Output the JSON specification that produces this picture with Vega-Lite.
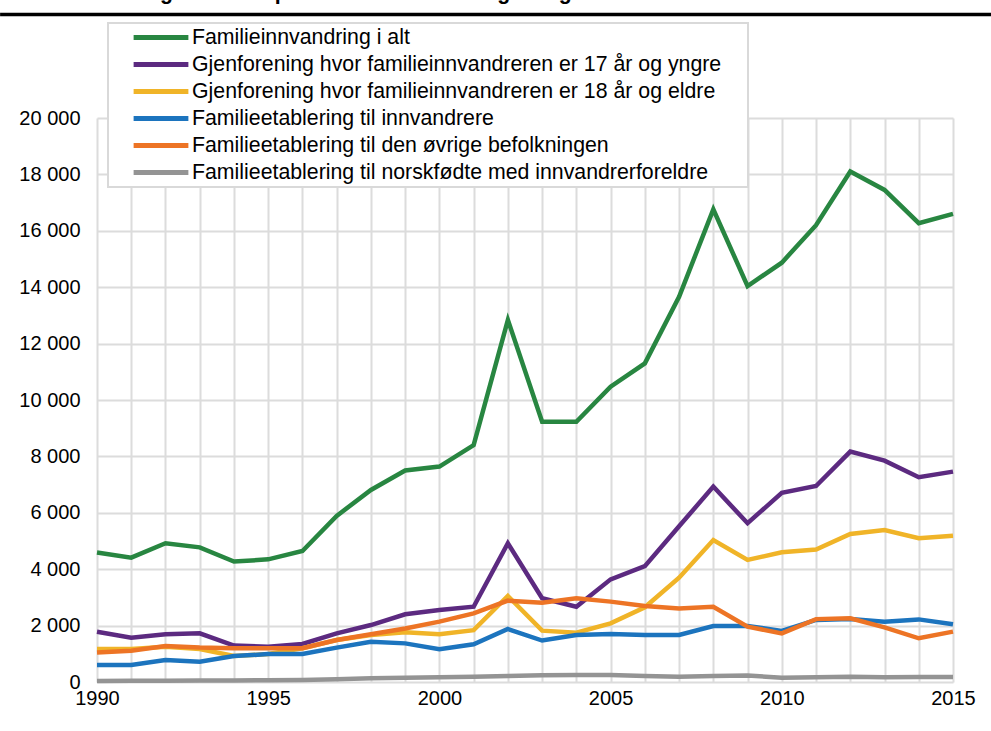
{
  "$schema": "https://vega.github.io/schema/vega-lite/v6.json",
  "width": 856,
  "height": 564,
  "autosize": {"type": "none"},
  "padding": {"left": 97, "top": 118, "right": 38, "bottom": 49},
  "background": "white",
  "title": {
    "text": "og referansepersonens innvandringsbakgrunn",
    "anchor": "start",
    "frame": "group",
    "font": "Liberation Sans",
    "fontSize": 21.3,
    "fontWeight": "bold",
    "color": "black",
    "dx": 50,
    "dy": -5
  },
  "config": {
    "locale": {"number": {"decimal": ",", "thousands": " ", "grouping": [3], "currency": ["", " kr"]}},
    "view": {"stroke": null},
    "axis": {
      "labelFont": "Liberation Sans",
      "labelFontSize": 20,
      "labelColor": "black",
      "gridColor": "#dcdcdc",
      "gridWidth": 2,
      "domain": false,
      "ticks": false,
      "title": null
    },
    "legend": {
      "strokeWidth": 2
    }
  },
  "resolve": {"axis": {"x": "independent"}},
  "layer": [
    {
      "data": {
        "values": [
          {"series": "Familieinnvandring i alt", "year": 1990, "value": 4590},
          {"series": "Familieinnvandring i alt", "year": 1991, "value": 4410},
          {"series": "Familieinnvandring i alt", "year": 1992, "value": 4920},
          {"series": "Familieinnvandring i alt", "year": 1993, "value": 4775},
          {"series": "Familieinnvandring i alt", "year": 1994, "value": 4270},
          {"series": "Familieinnvandring i alt", "year": 1995, "value": 4350},
          {"series": "Familieinnvandring i alt", "year": 1996, "value": 4645},
          {"series": "Familieinnvandring i alt", "year": 1997, "value": 5890},
          {"series": "Familieinnvandring i alt", "year": 1998, "value": 6810},
          {"series": "Familieinnvandring i alt", "year": 1999, "value": 7500},
          {"series": "Familieinnvandring i alt", "year": 2000, "value": 7640},
          {"series": "Familieinnvandring i alt", "year": 2001, "value": 8400},
          {"series": "Familieinnvandring i alt", "year": 2002, "value": 12840},
          {"series": "Familieinnvandring i alt", "year": 2003, "value": 9230},
          {"series": "Familieinnvandring i alt", "year": 2004, "value": 9230},
          {"series": "Familieinnvandring i alt", "year": 2005, "value": 10470},
          {"series": "Familieinnvandring i alt", "year": 2006, "value": 11300},
          {"series": "Familieinnvandring i alt", "year": 2007, "value": 13660},
          {"series": "Familieinnvandring i alt", "year": 2008, "value": 16760},
          {"series": "Familieinnvandring i alt", "year": 2009, "value": 14040},
          {"series": "Familieinnvandring i alt", "year": 2010, "value": 14870},
          {"series": "Familieinnvandring i alt", "year": 2011, "value": 16200},
          {"series": "Familieinnvandring i alt", "year": 2012, "value": 18100},
          {"series": "Familieinnvandring i alt", "year": 2013, "value": 17450},
          {"series": "Familieinnvandring i alt", "year": 2014, "value": 16270},
          {"series": "Familieinnvandring i alt", "year": 2015, "value": 16600},

          {"series": "Gjenforening hvor familieinnvandreren er 17 år og yngre", "year": 1990, "value": 1780},
          {"series": "Gjenforening hvor familieinnvandreren er 17 år og yngre", "year": 1991, "value": 1570},
          {"series": "Gjenforening hvor familieinnvandreren er 17 år og yngre", "year": 1992, "value": 1690},
          {"series": "Gjenforening hvor familieinnvandreren er 17 år og yngre", "year": 1993, "value": 1725},
          {"series": "Gjenforening hvor familieinnvandreren er 17 år og yngre", "year": 1994, "value": 1290},
          {"series": "Gjenforening hvor familieinnvandreren er 17 år og yngre", "year": 1995, "value": 1250},
          {"series": "Gjenforening hvor familieinnvandreren er 17 år og yngre", "year": 1996, "value": 1350},
          {"series": "Gjenforening hvor familieinnvandreren er 17 år og yngre", "year": 1997, "value": 1725},
          {"series": "Gjenforening hvor familieinnvandreren er 17 år og yngre", "year": 1998, "value": 2020},
          {"series": "Gjenforening hvor familieinnvandreren er 17 år og yngre", "year": 1999, "value": 2400},
          {"series": "Gjenforening hvor familieinnvandreren er 17 år og yngre", "year": 2000, "value": 2550},
          {"series": "Gjenforening hvor familieinnvandreren er 17 år og yngre", "year": 2001, "value": 2670},
          {"series": "Gjenforening hvor familieinnvandreren er 17 år og yngre", "year": 2002, "value": 4920},
          {"series": "Gjenforening hvor familieinnvandreren er 17 år og yngre", "year": 2003, "value": 2970},
          {"series": "Gjenforening hvor familieinnvandreren er 17 år og yngre", "year": 2004, "value": 2670},
          {"series": "Gjenforening hvor familieinnvandreren er 17 år og yngre", "year": 2005, "value": 3640},
          {"series": "Gjenforening hvor familieinnvandreren er 17 år og yngre", "year": 2006, "value": 4110},
          {"series": "Gjenforening hvor familieinnvandreren er 17 år og yngre", "year": 2007, "value": 5520},
          {"series": "Gjenforening hvor familieinnvandreren er 17 år og yngre", "year": 2008, "value": 6930},
          {"series": "Gjenforening hvor familieinnvandreren er 17 år og yngre", "year": 2009, "value": 5630},
          {"series": "Gjenforening hvor familieinnvandreren er 17 år og yngre", "year": 2010, "value": 6710},
          {"series": "Gjenforening hvor familieinnvandreren er 17 år og yngre", "year": 2011, "value": 6950},
          {"series": "Gjenforening hvor familieinnvandreren er 17 år og yngre", "year": 2012, "value": 8170},
          {"series": "Gjenforening hvor familieinnvandreren er 17 år og yngre", "year": 2013, "value": 7850},
          {"series": "Gjenforening hvor familieinnvandreren er 17 år og yngre", "year": 2014, "value": 7260},
          {"series": "Gjenforening hvor familieinnvandreren er 17 år og yngre", "year": 2015, "value": 7460},

          {"series": "Gjenforening hvor familieinnvandreren er 18 år og eldre", "year": 1990, "value": 1170},
          {"series": "Gjenforening hvor familieinnvandreren er 18 år og eldre", "year": 1991, "value": 1170},
          {"series": "Gjenforening hvor familieinnvandreren er 18 år og eldre", "year": 1992, "value": 1250},
          {"series": "Gjenforening hvor familieinnvandreren er 18 år og eldre", "year": 1993, "value": 1170},
          {"series": "Gjenforening hvor familieinnvandreren er 18 år og eldre", "year": 1994, "value": 920},
          {"series": "Gjenforening hvor familieinnvandreren er 18 år og eldre", "year": 1995, "value": 990},
          {"series": "Gjenforening hvor familieinnvandreren er 18 år og eldre", "year": 1996, "value": 1195},
          {"series": "Gjenforening hvor familieinnvandreren er 18 år og eldre", "year": 1997, "value": 1490},
          {"series": "Gjenforening hvor familieinnvandreren er 18 år og eldre", "year": 1998, "value": 1670},
          {"series": "Gjenforening hvor familieinnvandreren er 18 år og eldre", "year": 1999, "value": 1760},
          {"series": "Gjenforening hvor familieinnvandreren er 18 år og eldre", "year": 2000, "value": 1690},
          {"series": "Gjenforening hvor familieinnvandreren er 18 år og eldre", "year": 2001, "value": 1840},
          {"series": "Gjenforening hvor familieinnvandreren er 18 år og eldre", "year": 2002, "value": 3050},
          {"series": "Gjenforening hvor familieinnvandreren er 18 år og eldre", "year": 2003, "value": 1820},
          {"series": "Gjenforening hvor familieinnvandreren er 18 år og eldre", "year": 2004, "value": 1750},
          {"series": "Gjenforening hvor familieinnvandreren er 18 år og eldre", "year": 2005, "value": 2080},
          {"series": "Gjenforening hvor familieinnvandreren er 18 år og eldre", "year": 2006, "value": 2650},
          {"series": "Gjenforening hvor familieinnvandreren er 18 år og eldre", "year": 2007, "value": 3700},
          {"series": "Gjenforening hvor familieinnvandreren er 18 år og eldre", "year": 2008, "value": 5035},
          {"series": "Gjenforening hvor familieinnvandreren er 18 år og eldre", "year": 2009, "value": 4330},
          {"series": "Gjenforening hvor familieinnvandreren er 18 år og eldre", "year": 2010, "value": 4600},
          {"series": "Gjenforening hvor familieinnvandreren er 18 år og eldre", "year": 2011, "value": 4700},
          {"series": "Gjenforening hvor familieinnvandreren er 18 år og eldre", "year": 2012, "value": 5250},
          {"series": "Gjenforening hvor familieinnvandreren er 18 år og eldre", "year": 2013, "value": 5390},
          {"series": "Gjenforening hvor familieinnvandreren er 18 år og eldre", "year": 2014, "value": 5100},
          {"series": "Gjenforening hvor familieinnvandreren er 18 år og eldre", "year": 2015, "value": 5190},

          {"series": "Familieetablering til innvandrere", "year": 1990, "value": 600},
          {"series": "Familieetablering til innvandrere", "year": 1991, "value": 600},
          {"series": "Familieetablering til innvandrere", "year": 1992, "value": 780},
          {"series": "Familieetablering til innvandrere", "year": 1993, "value": 720},
          {"series": "Familieetablering til innvandrere", "year": 1994, "value": 920},
          {"series": "Familieetablering til innvandrere", "year": 1995, "value": 990},
          {"series": "Familieetablering til innvandrere", "year": 1996, "value": 990},
          {"series": "Familieetablering til innvandrere", "year": 1997, "value": 1220},
          {"series": "Familieetablering til innvandrere", "year": 1998, "value": 1430},
          {"series": "Familieetablering til innvandrere", "year": 1999, "value": 1370},
          {"series": "Familieetablering til innvandrere", "year": 2000, "value": 1160},
          {"series": "Familieetablering til innvandrere", "year": 2001, "value": 1340},
          {"series": "Familieetablering til innvandrere", "year": 2002, "value": 1880},
          {"series": "Familieetablering til innvandrere", "year": 2003, "value": 1470},
          {"series": "Familieetablering til innvandrere", "year": 2004, "value": 1670},
          {"series": "Familieetablering til innvandrere", "year": 2005, "value": 1700},
          {"series": "Familieetablering til innvandrere", "year": 2006, "value": 1670},
          {"series": "Familieetablering til innvandrere", "year": 2007, "value": 1670},
          {"series": "Familieetablering til innvandrere", "year": 2008, "value": 1985},
          {"series": "Familieetablering til innvandrere", "year": 2009, "value": 1985},
          {"series": "Familieetablering til innvandrere", "year": 2010, "value": 1810},
          {"series": "Familieetablering til innvandrere", "year": 2011, "value": 2200},
          {"series": "Familieetablering til innvandrere", "year": 2012, "value": 2230},
          {"series": "Familieetablering til innvandrere", "year": 2013, "value": 2140},
          {"series": "Familieetablering til innvandrere", "year": 2014, "value": 2220},
          {"series": "Familieetablering til innvandrere", "year": 2015, "value": 2045},

          {"series": "Familieetablering til den øvrige befolkningen", "year": 1990, "value": 1050},
          {"series": "Familieetablering til den øvrige befolkningen", "year": 1991, "value": 1110},
          {"series": "Familieetablering til den øvrige befolkningen", "year": 1992, "value": 1275},
          {"series": "Familieetablering til den øvrige befolkningen", "year": 1993, "value": 1220},
          {"series": "Familieetablering til den øvrige befolkningen", "year": 1994, "value": 1195},
          {"series": "Familieetablering til den øvrige befolkningen", "year": 1995, "value": 1195},
          {"series": "Familieetablering til den øvrige befolkningen", "year": 1996, "value": 1195},
          {"series": "Familieetablering til den øvrige befolkningen", "year": 1997, "value": 1490},
          {"series": "Familieetablering til den øvrige befolkningen", "year": 1998, "value": 1690},
          {"series": "Familieetablering til den øvrige befolkningen", "year": 1999, "value": 1900},
          {"series": "Familieetablering til den øvrige befolkningen", "year": 2000, "value": 2140},
          {"series": "Familieetablering til den øvrige befolkningen", "year": 2001, "value": 2435},
          {"series": "Familieetablering til den øvrige befolkningen", "year": 2002, "value": 2885},
          {"series": "Familieetablering til den øvrige befolkningen", "year": 2003, "value": 2810},
          {"series": "Familieetablering til den øvrige befolkningen", "year": 2004, "value": 2970},
          {"series": "Familieetablering til den øvrige befolkningen", "year": 2005, "value": 2850},
          {"series": "Familieetablering til den øvrige befolkningen", "year": 2006, "value": 2695},
          {"series": "Familieetablering til den øvrige befolkningen", "year": 2007, "value": 2610},
          {"series": "Familieetablering til den øvrige befolkningen", "year": 2008, "value": 2670},
          {"series": "Familieetablering til den øvrige befolkningen", "year": 2009, "value": 1960},
          {"series": "Familieetablering til den øvrige befolkningen", "year": 2010, "value": 1725},
          {"series": "Familieetablering til den øvrige befolkningen", "year": 2011, "value": 2230},
          {"series": "Familieetablering til den øvrige befolkningen", "year": 2012, "value": 2260},
          {"series": "Familieetablering til den øvrige befolkningen", "year": 2013, "value": 1940},
          {"series": "Familieetablering til den øvrige befolkningen", "year": 2014, "value": 1550},
          {"series": "Familieetablering til den øvrige befolkningen", "year": 2015, "value": 1785},

          {"series": "Familieetablering til norskfødte med innvandrerforeldre", "year": 1990, "value": 35},
          {"series": "Familieetablering til norskfødte med innvandrerforeldre", "year": 1991, "value": 40},
          {"series": "Familieetablering til norskfødte med innvandrerforeldre", "year": 1992, "value": 45},
          {"series": "Familieetablering til norskfødte med innvandrerforeldre", "year": 1993, "value": 50},
          {"series": "Familieetablering til norskfødte med innvandrerforeldre", "year": 1994, "value": 55},
          {"series": "Familieetablering til norskfødte med innvandrerforeldre", "year": 1995, "value": 60},
          {"series": "Familieetablering til norskfødte med innvandrerforeldre", "year": 1996, "value": 70},
          {"series": "Familieetablering til norskfødte med innvandrerforeldre", "year": 1997, "value": 100},
          {"series": "Familieetablering til norskfødte med innvandrerforeldre", "year": 1998, "value": 130},
          {"series": "Familieetablering til norskfødte med innvandrerforeldre", "year": 1999, "value": 150},
          {"series": "Familieetablering til norskfødte med innvandrerforeldre", "year": 2000, "value": 165},
          {"series": "Familieetablering til norskfødte med innvandrerforeldre", "year": 2001, "value": 190},
          {"series": "Familieetablering til norskfødte med innvandrerforeldre", "year": 2002, "value": 215},
          {"series": "Familieetablering til norskfødte med innvandrerforeldre", "year": 2003, "value": 240},
          {"series": "Familieetablering til norskfødte med innvandrerforeldre", "year": 2004, "value": 250},
          {"series": "Familieetablering til norskfødte med innvandrerforeldre", "year": 2005, "value": 250},
          {"series": "Familieetablering til norskfødte med innvandrerforeldre", "year": 2006, "value": 210},
          {"series": "Familieetablering til norskfødte med innvandrerforeldre", "year": 2007, "value": 190},
          {"series": "Familieetablering til norskfødte med innvandrerforeldre", "year": 2008, "value": 210},
          {"series": "Familieetablering til norskfødte med innvandrerforeldre", "year": 2009, "value": 230},
          {"series": "Familieetablering til norskfødte med innvandrerforeldre", "year": 2010, "value": 155},
          {"series": "Familieetablering til norskfødte med innvandrerforeldre", "year": 2011, "value": 165},
          {"series": "Familieetablering til norskfødte med innvandrerforeldre", "year": 2012, "value": 190},
          {"series": "Familieetablering til norskfødte med innvandrerforeldre", "year": 2013, "value": 165},
          {"series": "Familieetablering til norskfødte med innvandrerforeldre", "year": 2014, "value": 180},
          {"series": "Familieetablering til norskfødte med innvandrerforeldre", "year": 2015, "value": 180}
        ]
      },
      "mark": {"type": "line", "strokeWidth": 4.5, "strokeJoin": "miter", "strokeCap": "butt"},
      "encoding": {
        "x": {
          "field": "year",
          "type": "quantitative",
          "scale": {"domain": [1990, 2015], "nice": false, "zero": false},
          "axis": {
            "orient": "bottom",
            "values": [1990, 1995, 2000, 2005, 2010, 2015],
            "format": "d",
            "grid": false,
            "labelPadding": 6,
            "labelFlush": false,
            "labelOverlap": false
          }
        },
        "y": {
          "field": "value",
          "type": "quantitative",
          "scale": {"domain": [0, 20000], "nice": false},
          "axis": {
            "values": [0, 2000, 4000, 6000, 8000, 10000, 12000, 14000, 16000, 18000, 20000],
            "format": ",d",
            "labelPadding": 17
          }
        },
        "color": {
          "field": "series",
          "type": "nominal",
          "sort": null,
          "scale": {
            "domain": [
              "Familieinnvandring i alt",
              "Gjenforening hvor familieinnvandreren er 17 år og yngre",
              "Gjenforening hvor familieinnvandreren er 18 år og eldre",
              "Familieetablering til innvandrere",
              "Familieetablering til den øvrige befolkningen",
              "Familieetablering til norskfødte med innvandrerforeldre"
            ],
            "range": ["#288641", "#5c2a80", "#f0b428", "#1c74be", "#ed7425", "#949494"]
          },
          "legend": {
            "orient": "none",
            "legendX": 11,
            "legendY": -95,
            "title": "\u00a0",
            "titleOrient": "right",
            "titlePadding": 26,
            "titleFontSize": 20,
            "symbolType": "stroke",
            "symbolSize": 3000,
            "symbolStrokeWidth": 5,
            "symbolOffset": 22,
            "labelOffset": 1,
            "clipHeight": 27,
            "labelFont": "Liberation Sans",
            "labelFontSize": 21.3,
            "labelColor": "black",
            "labelLimit": 700,
            "padding": 1,
            "rowPadding": 0,
            "strokeColor": "#d9d9d9",
            "fillColor": "white"
          }
        }
      }
    },
    {
      "data": {"values": [{}]},
      "mark": {"type": "rule", "color": "black", "strokeWidth": 3.5, "clip": false},
      "encoding": {
        "x": {
          "datum": 1987.17,
          "type": "quantitative",
          "axis": {
            "orient": "bottom",
            "values": [1990, 1991, 1992, 1993, 1994, 1995, 1996, 1997, 1998, 1999, 2000, 2001, 2002, 2003, 2004, 2005, 2006, 2007, 2008, 2009, 2010, 2011, 2012, 2013, 2014, 2015],
            "labels": false,
            "grid": true
          }
        },
        "x2": {"datum": 2016.11},
        "y": {"datum": 23670, "type": "quantitative"}
      }
    }
  ]
}
